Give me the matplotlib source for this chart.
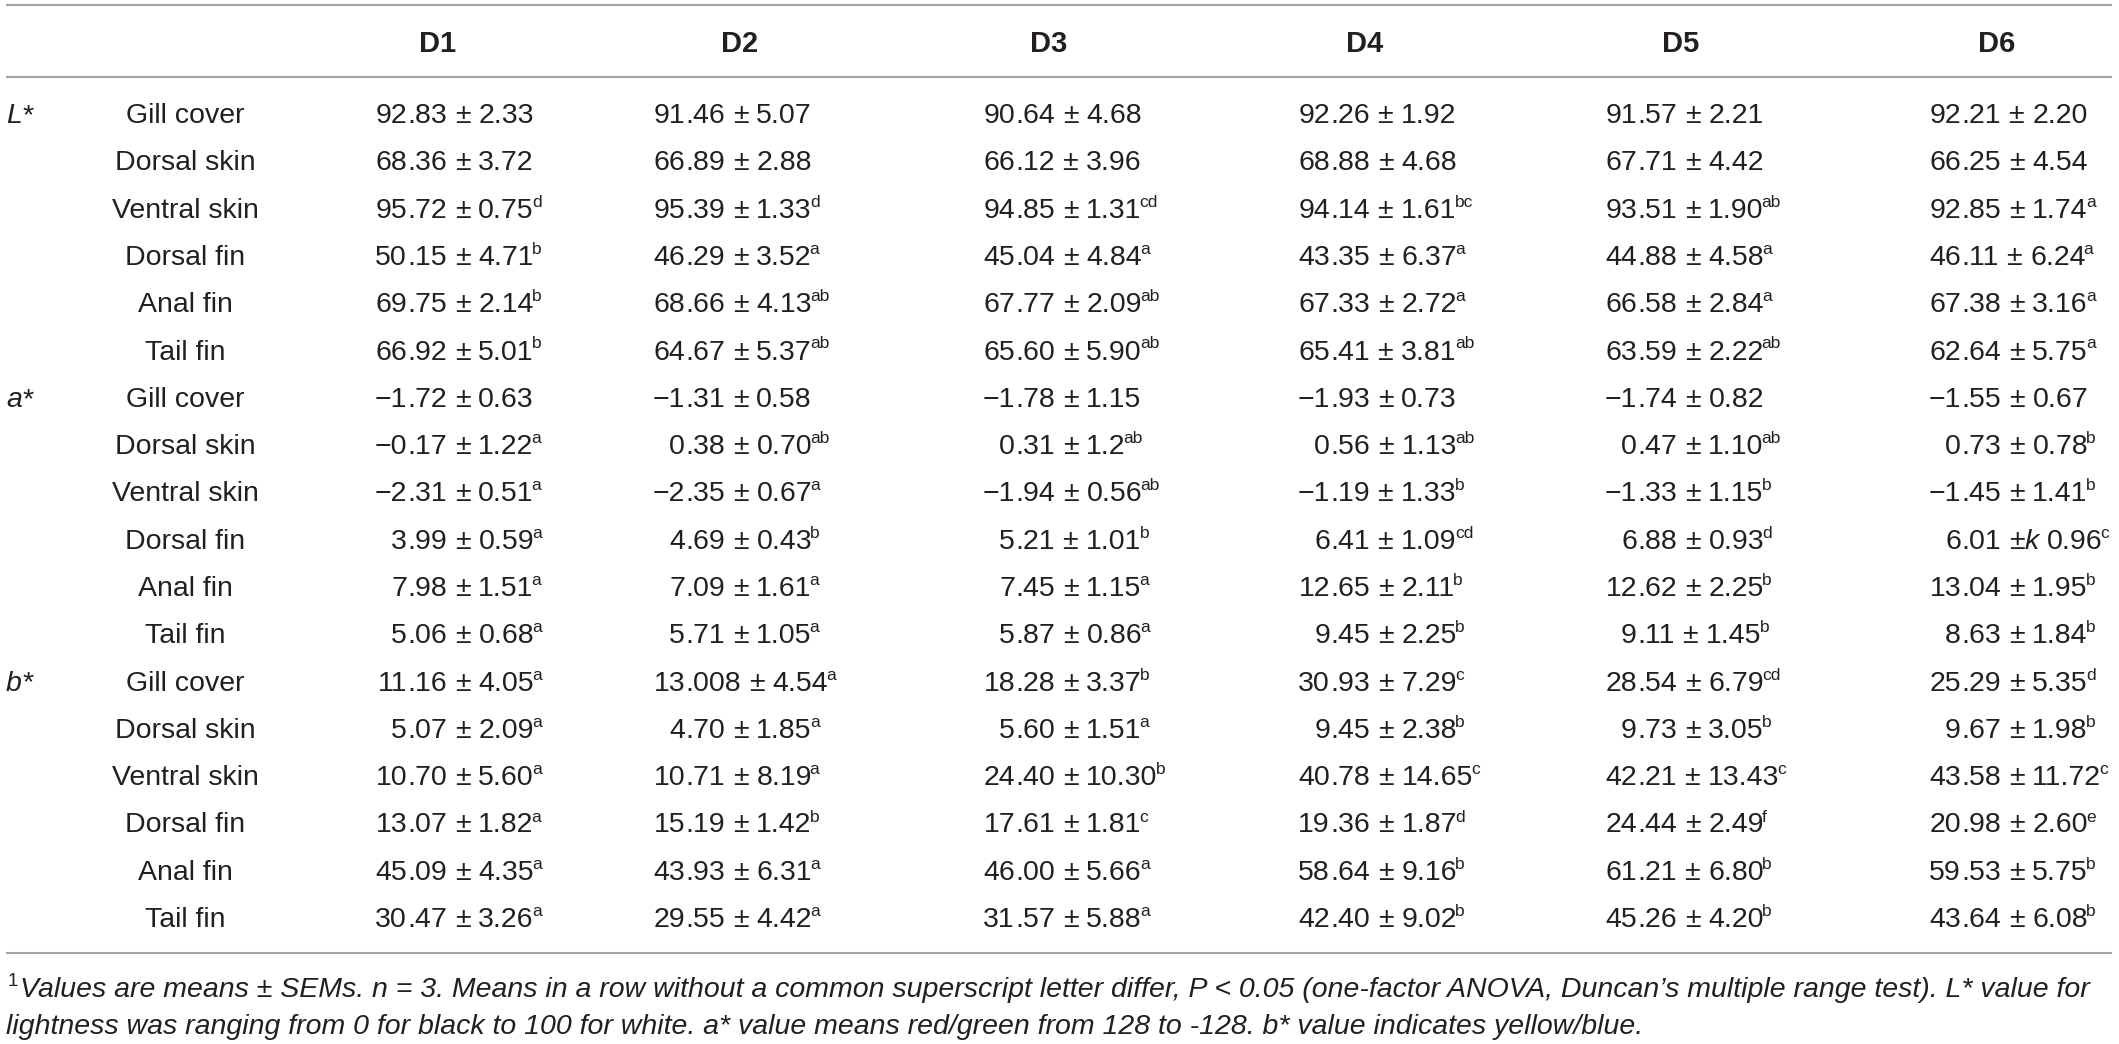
import matplotlib
matplotlib.use("Agg")
import matplotlib.pyplot as plt
import numpy as np

plt.rcParams['font.family'] = ['Liberation Sans', 'DejaVu Sans']

# table content
diets = ["D1", "D2", "D3", "D4", "D5", "D6"]
tissues = ["Gill cover", "Dorsal skin", "Ventral skin", "Dorsal fin", "Anal fin", "Tail fin"]
groups = ["L", "a", "b"]

L_mean = [["92.83", "91.46", "90.64", "92.26", "91.57", "92.21"],
          ["68.36", "66.89", "66.12", "68.88", "67.71", "66.25"],
          ["95.72", "95.39", "94.85", "94.14", "93.51", "92.85"],
          ["50.15", "46.29", "45.04", "43.35", "44.88", "46.11"],
          ["69.75", "68.66", "67.77", "67.33", "66.58", "67.38"],
          ["66.92", "64.67", "65.60", "65.41", "63.59", "62.64"]]
L_sem = [["2.33", "5.07", "4.68", "1.92", "2.21", "2.20"],
         ["3.72", "2.88", "3.96", "4.68", "4.42", "4.54"],
         ["0.75", "1.33", "1.31", "1.61", "1.90", "1.74"],
         ["4.71", "3.52", "4.84", "6.37", "4.58", "6.24"],
         ["2.14", "4.13", "2.09", "2.72", "2.84", "3.16"],
         ["5.01", "5.37", "5.90", "3.81", "2.22", "5.75"]]
L_sup = [["", "", "", "", "", ""],
         ["", "", "", "", "", ""],
         ["d", "d", "cd", "bc", "ab", "a"],
         ["b", "a", "a", "a", "a", "a"],
         ["b", "ab", "ab", "a", "a", "a"],
         ["b", "ab", "ab", "ab", "ab", "a"]]

a_mean = [["−1.72", "−1.31", "−1.78", "−1.93", "−1.74", "−1.55"],
          ["−0.17", "0.38", "0.31", "0.56", "0.47", "0.73"],
          ["−2.31", "−2.35", "−1.94", "−1.19", "−1.33", "−1.45"],
          ["3.99", "4.69", "5.21", "6.41", "6.88", "6.01"],
          ["7.98", "7.09", "7.45", "12.65", "12.62", "13.04"],
          ["5.06", "5.71", "5.87", "9.45", "9.11", "8.63"]]
a_sem = [["0.63", "0.58", "1.15", "0.73", "0.82", "0.67"],
         ["1.22", "0.70", "1.2", "1.13", "1.10", "0.78"],
         ["0.51", "0.67", "0.56", "1.33", "1.15", "1.41"],
         ["0.59", "0.43", "1.01", "1.09", "0.93", "k 0.96"],
         ["1.51", "1.61", "1.15", "2.11", "2.25", "1.95"],
         ["0.68", "1.05", "0.86", "2.25", "1.45", "1.84"]]
a_sup = [["", "", "", "", "", ""],
         ["a", "ab", "ab", "ab", "ab", "b"],
         ["a", "a", "ab", "b", "b", "b"],
         ["a", "b", "b", "cd", "d", "c"],
         ["a", "a", "a", "b", "b", "b"],
         ["a", "a", "a", "b", "b", "b"]]

b_mean = [["11.16", "13.008", "18.28", "30.93", "28.54", "25.29"],
          ["5.07", "4.70", "5.60", "9.45", "9.73", "9.67"],
          ["10.70", "10.71", "24.40", "40.78", "42.21", "43.58"],
          ["13.07", "15.19", "17.61", "19.36", "24.44", "20.98"],
          ["45.09", "43.93", "46.00", "58.64", "61.21", "59.53"],
          ["30.47", "29.55", "31.57", "42.40", "45.26", "43.64"]]
b_sem = [["4.05", "4.54", "3.37", "7.29", "6.79", "5.35"],
         ["2.09", "1.85", "1.51", "2.38", "3.05", "1.98"],
         ["5.60", "8.19", "10.30", "14.65", "13.43", "11.72"],
         ["1.82", "1.42", "1.81", "1.87", "2.49", "2.60"],
         ["4.35", "6.31", "5.66", "9.16", "6.80", "5.75"],
         ["3.26", "4.42", "5.88", "9.02", "4.20", "6.08"]]
b_sup = [["a", "a", "b", "c", "cd", "d"],
         ["a", "a", "a", "b", "b", "b"],
         ["a", "a", "b", "c", "c", "c"],
         ["a", "b", "c", "d", "f", "e"],
         ["a", "a", "a", "b", "b", "b"],
         ["a", "a", "a", "b", "b", "b"]]

note1 = ("Values are means ± SEMs. n = 3. Means in a row without a common superscript letter "
         "differ, P < 0.05 (one-factor ANOVA, Duncan’s multiple range test). L* value for")
note2 = ("lightness was ranging from 0 for black to 100 for white. a* value means red/green "
         "from 128 to -128. b* value indicates yellow/blue.")

# layout (pixels)
W, H = 2119, 1044
INK = "#231f20"
RULE = "#a3a3a3"
FS = 20.5
FS_SUP = 12.5
SP = 8.0
RAISE = 11
head_x = [438, 740, 1049, 1365, 1681, 1997]
dec_x = [407, 685, 1015, 1330, 1637, 1961]
row_y = 113 + 47.3 * np.arange(18)
base = 10

fig = plt.figure(figsize=(W / 100, H / 100), dpi=100)
ax = fig.add_axes([0, 0, 1, 1])
ax.set_xlim(0, W)
ax.set_ylim(H, 0)
ax.axis("off")
rend = fig.canvas.get_renderer()


def put(x, y, s, **kw):
    kw.setdefault("fontsize", FS)
    kw.setdefault("va", "baseline")
    t = ax.text(x, y, s, color=INK, **kw)
    return t.get_window_extent(renderer=rend).width


def cell(xd, y, mean, sem, sup):
    ip, fp = mean.split(".")
    put(xd, y, ip, ha="right")
    x = xd + put(xd, y, "." + fp)
    x += SP
    x += put(x, y, "±")
    if sem.startswith("k"):
        x += put(x, y, "k", style="italic")
        sem = sem[1:].strip()
    x += SP
    x += put(x, y, sem)
    if sup:
        put(x - 2, y - RAISE, sup, fontsize=FS_SUP)


# rules
for yy in (5, 77, 953):
    ax.plot([6, 2112], [yy, yy], color=RULE, lw=1.5, solid_capstyle="butt")

# header
for d, hx in zip(diets, head_x):
    put(hx, 42 + base, d, ha="center", fontweight="bold", fontsize=FS + 0.5)

all_mean = [L_mean, a_mean, b_mean]
all_sem = [L_sem, a_sem, b_sem]
all_sup = [L_sup, a_sup, b_sup]

for g, grp in enumerate(groups):
    for i, tis in enumerate(tissues):
        y = row_y[g * 6 + i] + base
        if i == 0:
            w = put(6, y, grp, style="italic")
            put(6 + w + 1, y, "*")
        put(185, y, tis, ha="center")
        for j in range(6):
            cell(dec_x[j], y, all_mean[g][i][j], all_sem[g][i][j], all_sup[g][i][j])

# footnote
put(8, 987 + base - RAISE, "1", fontsize=FS_SUP + 1)
put(20, 987 + base, note1, style="italic")
put(6, 1024 + base, note2, style="italic")

fig.savefig("out.png", dpi=100)
